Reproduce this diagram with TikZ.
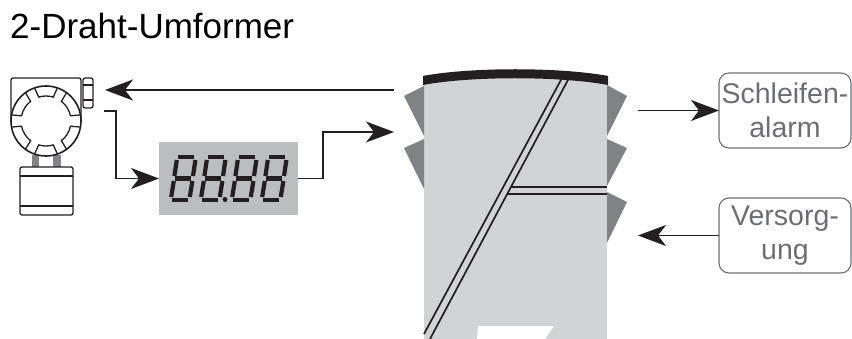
\documentclass[tikz,border=0pt]{standalone}
\usepackage{fontspec}
\setmainfont{Liberation Sans}
\usetikzlibrary{positioning,arrows.meta,calc}
\definecolor{blockgray}{HTML}{D1D3D4}
\definecolor{tabgray}{HTML}{808285}
\definecolor{dispgray}{HTML}{BBBDBF}
\definecolor{boxgray}{HTML}{6D6E71}
\definecolor{inkblack}{HTML}{231F20}
\tikzset{
  sig/.style={-{Stealth[length=28pt,width=21pt,inset=8pt]},line width=1.5pt,draw=inkblack},
  wire/.style={line width=1.7pt,draw=inkblack},
  txbox/.style={rectangle,draw=boxgray,line width=1.1pt,rounded corners=10pt,text=boxgray,
    minimum width=132pt,minimum height=75pt,align=center,inner sep=0pt,outer sep=0pt,
    font=\fontsize{28.5}{33.5}\selectfont},
  tx/.style={draw=inkblack,line width=1.3pt},
  tab/.style={fill=tabgray,draw=none},
  seg/.style={draw=inkblack,line width=4.2pt},
}
% one slanted digit, all segments on
\newcommand{\segdigit}[1]{%
  \begin{scope}[xshift=#1pt]
    \foreach \xa/\ya/\xb/\yb in {9/157/25/157,6/178.5/22/178.5,3/200/19/200,7.8/160/5.4/176,4.8/181/2.2/197,26.4/160/24/176,23.4/181/20.8/197}
      \draw[seg] (\xa,\ya) -- (\xb,\yb);
  \end{scope}}
\begin{document}
\begin{tikzpicture}[x=1pt,y=-1pt]
  \useasboundingbox (0,0) rectangle (852,339);
  \node[anchor=west,font=\fontsize{35}{40}\selectfont,inner sep=0pt] (title) at (10,26) {2-Draht-Umformer};
  % main block
  \node[rectangle,fill=blockgray,minimum width=183pt,minimum height=264pt,inner sep=0pt,outer sep=0pt,anchor=north west] (block) at (424,75) {};
  \fill[tab] (424,86) -- (404,96) -- (424,136) -- cycle;
  \fill[tab] (424,139) -- (404,148) -- (424,189) -- cycle;
  \fill[tab] (607,85) -- (627,96) -- (607,136) -- cycle;
  \fill[tab] (607,139) -- (627,148) -- (607,186) -- cycle;
  \fill[tab] (607,192) -- (627,202) -- (607,243) -- cycle;
  \fill[white] (478,326) -- (554,326) -- (545,339) -- (477,339) -- cycle;
  \draw[wire] (562,78) -- (424,334);
  \draw[wire] (569,78) -- (430,339);
  \draw[wire] (512,187) -- (607,187);
  \draw[wire] (508,194) -- (607,194);
  \fill[inkblack] (423,76) .. controls (470,67) and (560,67) .. (608,76) -- (608,85) .. controls (560,76) and (470,76) .. (423,85) -- cycle;
  % transmitter
  \draw[tx,rounded corners=2pt] (11,121) -- (11,78) -- (81,78) -- (81,121);
  \fill[tabgray] (32,155) rectangle (39,167);
  \fill[tabgray] (53,155) rectangle (61,167);
  \draw[tx,fill=white,line width=1.6pt] (46,121) circle (35);
  \begin{scope}[shift={(46,121)}]
    \foreach \a/\h in {90/19,148/22,212/22,270/19,328/22,32/22}
      \draw[tx] (\a-\h:35pt) -- (\a-\h+2:25pt) arc[start angle=\a-\h+2,end angle=\a+\h-2,radius=25pt] -- (\a+\h:35pt);
  \end{scope}
  \draw[tx,rounded corners=2pt] (83,78) rectangle (93,108);
  \draw[tx] (83,85) -- (93,85) (83,100) -- (93,100);
  \draw[tx,rounded corners=2pt] (20,167) rectangle (73,215);
  \draw[tx] (20,176) -- (73,176) (20,206) -- (73,206);
  \coordinate (txin) at (105,90);
  \coordinate (txout) at (104,111);
  % display
  \node[rectangle,fill=dispgray,minimum width=139pt,minimum height=73pt,inner sep=0pt,outer sep=0pt,anchor=north west] (disp) at (159,142) {};
  \foreach \xd in {169,199,230,260}
    \segdigit{\xd}
  \fill[inkblack] (225,199.5) circle (2.2);
  % boxes
  \node[txbox,anchor=north west] (alarm) at (719,73) {Schleifen-\\alarm};
  \node[txbox,anchor=north west] (supply) at (719,198) {Versorg-\\ung};
  \coordinate (blkin) at (394,90);
  \coordinate (blkdisp) at (394,132);
  \coordinate (blkalarm) at (638,110.5);
  \coordinate (blksup) at (638,235.5);
  % arrows
  \draw[sig] (blkin) -- (txin);
  \draw[sig] (txout) -- (116,111) |- (disp.west);
  \draw[sig] (disp.east) -- (323,178.5) |- (blkdisp);
  \draw[sig] (blkalarm) -- (alarm.west);
  \draw[sig] (supply.west) -- (blksup);
\end{tikzpicture}
\end{document}
